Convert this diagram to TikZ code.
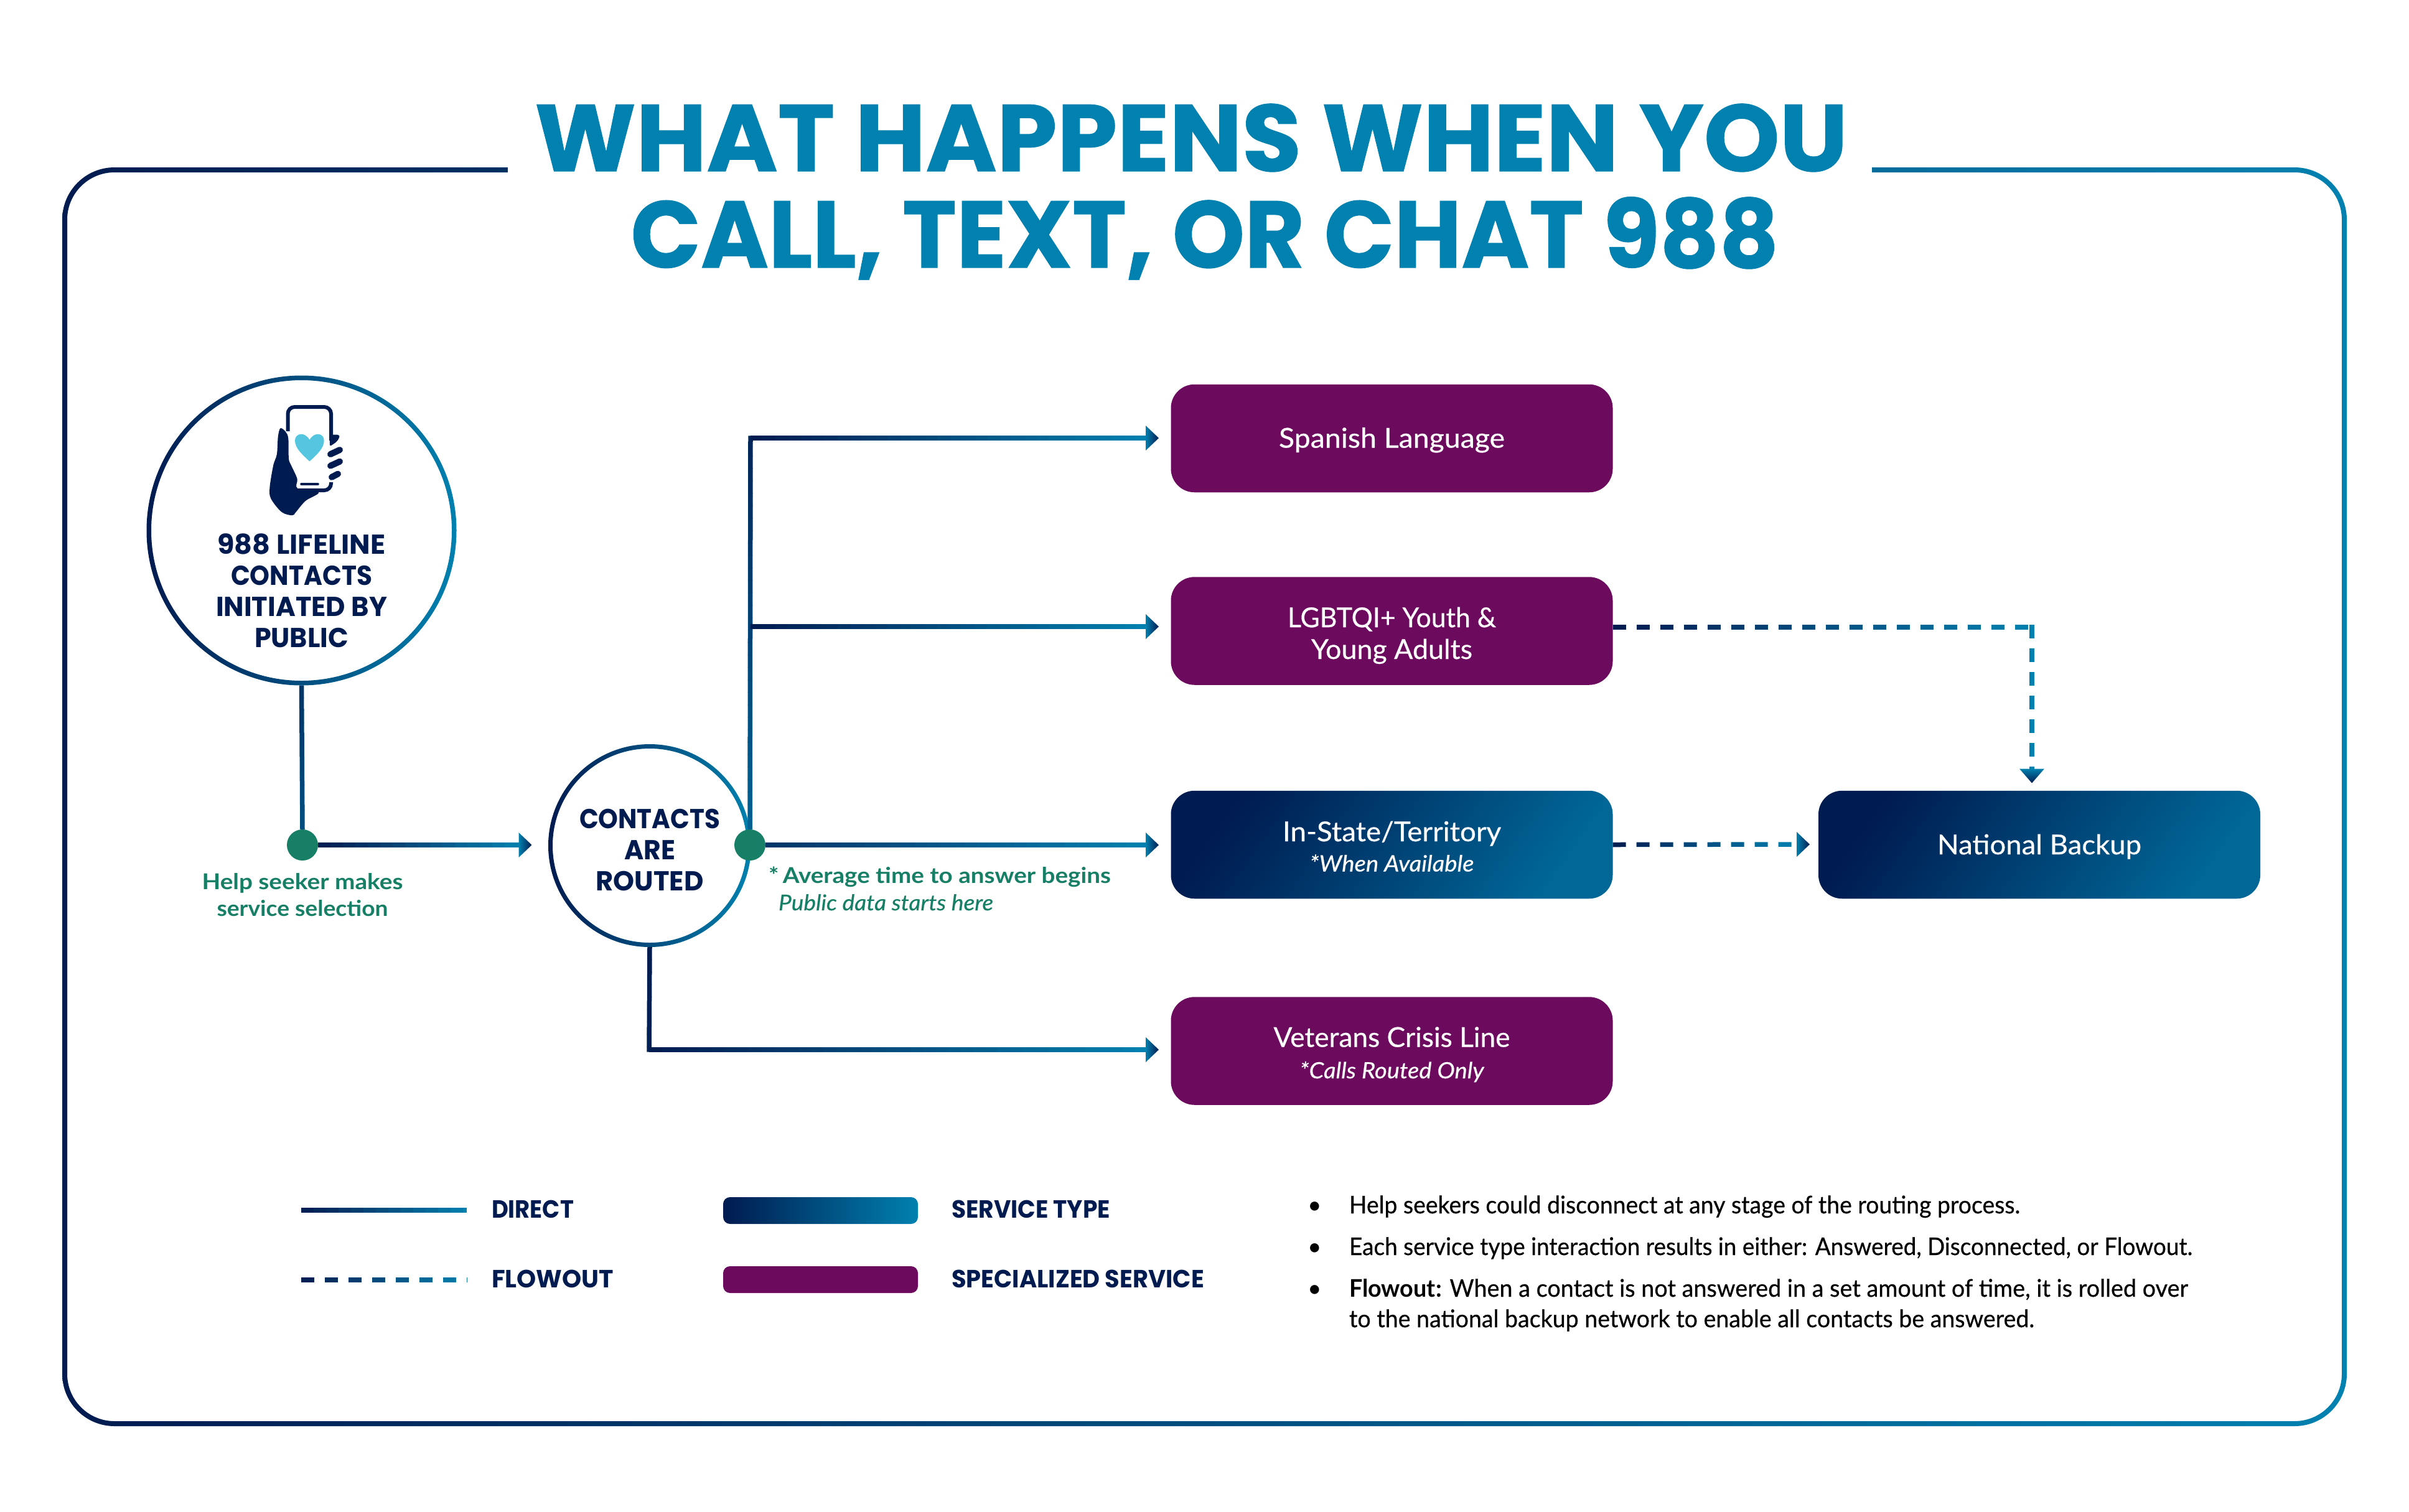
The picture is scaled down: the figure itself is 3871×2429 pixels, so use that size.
\documentclass[tikz,border=0pt]{standalone}
\usepackage{fontspec}
\usepackage{graphicx}
\usetikzlibrary{calc,decorations.pathreplacing}
\setmainfont{Lato}
\newfontfamily\capf{Poppins}
\newfontfamily\titlef{Poppins}[BoldFeatures={FakeBold=0.8}]
\newfontfamily\medf{Lato}[FakeBold=0.5,ItalicFeatures={FakeBold=0.5}]
\definecolor{navy988}{HTML}{001B50}
\definecolor{teal988}{HTML}{0081AF}
\definecolor{purple988}{HTML}{6C0A5E}
\definecolor{green988}{HTML}{167F65}
\definecolor{heart988}{HTML}{54C6DF}
\newcommand\sz[1]{\fontsize{#1}{#1}\selectfont}
\newsavebox\fitbox
\newcommand\fitw[2]{\sbox\fitbox{#2}\pgfmathsetmacro\fitr{#1/\the\wd\fitbox}\scalebox{\fitr}[1]{\usebox\fitbox}}
\newcommand\tline[3]{\makebox[0pt]{\raisebox{#2pt}[0pt][0pt]{\fitw{#1}{#3}}}}
\newcommand\gradseg[4]{%
  \coordinate (gsP) at (\tikzinputsegmentfirst);
  \coordinate (gsQ) at (\tikzinputsegmentlast);
  \pgfpointdiff{\pgfpointanchor{gsP}{center}}{\pgfpointanchor{gsQ}{center}}\pgfgetlastxy{\gsdx}{\gsdy}%
  \pgfmathsetmacro\gsL{veclen(\gsdx,\gsdy)}%
  \ifdim\gsL pt<0.01pt\else
  \pgfmathtruncatemacro\gsN{ceil(\gsL/#3)}%
  \foreach \gsi in {1,...,\gsN}{%
    \pgfmathsetmacro\gsA{(\gsi-1)*#3/\gsL}%
    \pgfmathsetmacro\gsB{min(1,((\gsi-1)*#3+#4)/\gsL)}%
    \pgfmathsetmacro\gsC{#1+(#2-#1)*(\gsA+\gsB)/2}%
    \colorlet{gscol}{teal988!\gsC!navy988}%
    \draw[draw=gscol,line width=7.5pt,line cap=butt] ($(gsP)!\gsA!(gsQ)$) -- ($(gsP)!\gsB!(gsQ)$);
  }%
  \fi
}
\newcommand\headR[1]{\shade[left color=teal988,right color=navy988,shift={(#1)}] (-21,-20) -- (0,0) -- (-21,20) -- cycle;}
\newcommand\headD[1]{\shade[top color=teal988,bottom color=navy988,shift={(#1)}] (-20,-23) -- (0,0) -- (20,-23) -- cycle;}
\tikzset{
  gradline/.style n args={4}{decorate,decoration={show path construction,lineto code={\gradseg{#1}{#2}{#3}{#4}}}},
  solidline/.style 2 args={gradline={#1}{#2}{20}{20.6}},
  flowline/.style={gradline={0}{100}{38}{21}},
  boxbase/.style={rectangle,rounded corners=38,minimum width=710,minimum height=173.5,inner sep=0,outer sep=0,text=white,font=\medf\sz{44}},
  specbox/.style={boxbase,fill=purple988},
  typebox/.style={boxbase,left color=navy988,right color=teal988!75!navy988,shading angle=55},
  ring/.style={even odd rule,left color=navy988,right color=teal988},
  dot/.style={circle,fill=green988,minimum size=50,inner sep=0,outer sep=0},
  circtext/.style={circle,inner sep=0,outer sep=0,text=navy988,font=\capf\bfseries\sz{44}},
  txt/.style={anchor=base,inner sep=0,outer sep=0},
  txtw/.style={anchor=base west,inner sep=0,outer sep=0},
  legend/.style={txtw,text=navy988,font=\capf\bfseries\sz{40}},
  greenb/.style={text=green988,font=\bfseries\sz{35}},
  note/.style={txtw,text=black,font=\medf\sz{39}},
  swatch/.style={rectangle,rounded corners=11,minimum width=313,minimum height=43,inner sep=0,outer sep=0},
}
\begin{document}
\begin{tikzpicture}[x=1pt,y=-1pt]
\useasboundingbox (0,0) rectangle (3871,2429);
% frame
\shade[ring] (100,269) [rounded corners=84] rectangle (3771,2292) [rounded corners=76] (108,277) rectangle (3763,2284);
\fill[white] (816,255) rectangle (3008,295);
% title
\node[txt,text=teal988,font=\titlef\bfseries\sz{152}] (title1) at (1914,275) {\fitw{2110}{WHAT HAPPENS WHEN YOU}};
\node[txt,text=teal988,font=\titlef\bfseries\sz{152}] (title2) at (1936,430) {\fitw{1845}{CALL, TEXT, OR CHAT 988}};
% circles
\node[circtext,minimum size=498] (lifeline) at (484.5,852.5) {\tline{270}{-37.5}{988 LIFELINE}\tline{227}{-87.5}{CONTACTS}\tline{275}{-137.5}{INITIATED BY}\tline{151}{-187.5}{PUBLIC}};
\shade[ring] (lifeline.center) circle[radius=249] (lifeline.center) circle[radius=241.5];
\node[circtext,minimum size=326] (routed) at (1044,1359) {\tline{226}{28}{CONTACTS}\tline{82}{-22}{ARE}\tline{173}{-72}{ROUTED}};
\shade[ring] (routed.center) circle[radius=163] (routed.center) circle[radius=156];
% phone icon
\draw[navy988,line width=6pt,rounded corners=11] (462.5,693) -- (462.5,654) -- (532,654) -- (532,708);
\draw[navy988,line width=6pt,rounded corners=11] (532,775) -- (532,788) -- (478,788);
\draw[navy988,line width=3.5pt,line cap=round] (484,778) -- (511,778);
\fill[navy988] plot[smooth cycle,tension=.55] coordinates {(450.7,688.2) (459,694) (463.3,705) (464,737.1) (467.9,747.9) (477.5,769.3) (478.2,785) (511.9,791.4) (490.9,805) (475.5,822.9) (469.8,828.2) (452.6,822.9) (435.4,801.4) (433.4,783.6) (439.2,747.9) (444.9,730) (446.8,701.4)};
\fill[navy988,rounded corners=3] (529.9,698.6) -- (545,698.6) -- (545.6,703.2) -- (540.6,710.4) -- (529.9,717.5) -- cycle;
\draw[navy988,line width=10pt,line cap=round] (531,730) -- (546,723);
\draw[navy988,line width=10pt,line cap=round] (531,748.6) -- (546,741.7);
\draw[navy988,line width=10pt,line cap=round] (533,766.8) -- (543,761.6);
\fill[heart988] (497.4,741.4) .. controls (485,730) and (474,720) .. (474,708) .. controls (474,696) and (490,693) .. (497.4,707) .. controls (505,693) and (520.7,696) .. (520.7,708) .. controls (520.7,720) and (510,730) .. (497.4,741.4);
% boxes
\node[specbox] (spanish) at (2236.5,704.5) {\tline{363}{-15}{Spanish Language}};
\node[specbox] (lgbt) at (2236.5,1014) {\tline{335}{6}{LGBTQI+ Youth \&}\tline{259}{-45}{Young Adults}};
\node[typebox] (instate) at (2236.5,1357.5) {\tline{351}{5.5}{In-State/Territory}\tline{264}{-43}{\sz{36}\itshape *When Available}};
\node[specbox] (veterans) at (2236.5,1689) {\tline{380}{6.5}{Veterans Crisis Line}\tline{296}{-44}{\sz{36}\itshape *Calls Routed Only}};
\node[typebox] (national) at (3277,1357.5) {\tline{328}{-15.5}{National Backup}};
% hubs
\node[dot] (select) at (486,1358) {};
\node[dot] (hub) at (1205,1358) {};
% connector points
\coordinate (routedIn) at (854.5,1358);
\coordinate (spanElbow) at (1206,704);
\coordinate (lgbtJoin) at (1206,1007);
\coordinate (spanTip) at (1862,704);
\coordinate (lgbtTip) at (1862,1007);
\coordinate (stateTip) at (1862,1358);
\coordinate (vetElbow) at (1043,1687);
\coordinate (vetTip) at (1862,1687);
\coordinate (flowElbow) at (3265,1008);
\coordinate (flowTip) at (3265,1258.5);
\coordinate (backTip) at (2908,1357);
% connectors
\draw[solidline={25}{50}] (lifeline.south) -- (select.north);
\draw[solidline={0}{100}] (select.east) -- ($(routedIn)+(-20,0)$);
\headR{routedIn}
\draw[solidline={70}{10}] (hub.north) -- ($(spanElbow)+(0,-3.7)$);
\draw[solidline={0}{100}] (spanElbow) -- ($(spanTip)+(-20,0)$);
\headR{spanTip}
\draw[solidline={0}{100}] (lgbtJoin) -- ($(lgbtTip)+(-20,0)$);
\headR{lgbtTip}
\draw[solidline={25}{100}] (hub.east) -- ($(stateTip)+(-20,0)$);
\headR{stateTip}
\draw[solidline={0}{5}] (routed.south) -- ($(vetElbow)+(0,3.7)$);
\draw[solidline={0}{100}] (vetElbow) -- ($(vetTip)+(-20,0)$);
\headR{vetTip}
\draw[flowline] ([yshift=6]lgbt.east) -- (flowElbow);
\draw[gradline={100}{100}{38}{22}] ($(flowElbow)+(0,-3.7)$) -- ($(flowTip)+(0,-22)$);
\headD{flowTip}
\draw[flowline] (instate.east) -- ($(backTip)+(-21,0)$);
\headR{backTip}
% green labels
\node[txt,greenb] (sel1) at (486,1429) {\fitw{323}{Help seeker makes}};
\node[txt,greenb] (sel2) at (486,1472) {\fitw{275}{service selection}};
\node[txtw,greenb] (avg1) at (1235,1419) {\fitw{550}{*\,Average time to answer begins}};
\node[txtw,text=green988,font=\medf\itshape\sz{35}] (avg2) at (1251,1463) {\fitw{345}{Public data starts here}};
% legend
\coordinate (legA1) at (483.5,1945);
\coordinate (legA2) at (750,1945);
\coordinate (legB1) at (483.5,2057);
\coordinate (legB2) at (750,2057);
\draw[solidline={0}{100}] (legA1) -- (legA2);
\draw[flowline] (legB1) -- (legB2);
\node[legend] (legdirect) at (790,1957) {\fitw{132}{DIRECT}};
\node[legend] (legflow) at (790,2069) {\fitw{196}{FLOWOUT}};
\node[swatch,left color=navy988,right color=teal988] (legtype) at (1318.5,1945.5) {};
\node[swatch,fill=purple988] (legspec) at (1318.5,2056.5) {};
\node[legend] (legservice) at (1529,1957) {\fitw{255}{SERVICE TYPE}};
\node[legend] (legspecial) at (1529,2069) {\fitw{406}{SPECIALIZED SERVICE}};
% notes
\node[txt,font=\sz{39}] (b1) at (2113,1950) {•};
\node[txt,font=\sz{39}] (b2) at (2113,2017) {•};
\node[txt,font=\sz{39}] (b3) at (2113,2084) {•};
\node[note] (n1) at (2168,1950) {\fitw{1078}{Help seekers could disconnect at any stage of the routing process.}};
\node[note] (n2) at (2168,2017) {\fitw{1355}{Each service type interaction results in either: Answered, Disconnected, or Flowout.}};
\node[note] (n3) at (2168,2084) {\fitw{1348}{{\fontspec{Lato}\bfseries Flowout:} When a contact is not answered in a set amount of time, it is rolled over}};
\node[note] (n4) at (2168,2133) {\fitw{1101}{to the national backup network to enable all contacts be answered.}};
\end{tikzpicture}
\end{document}
